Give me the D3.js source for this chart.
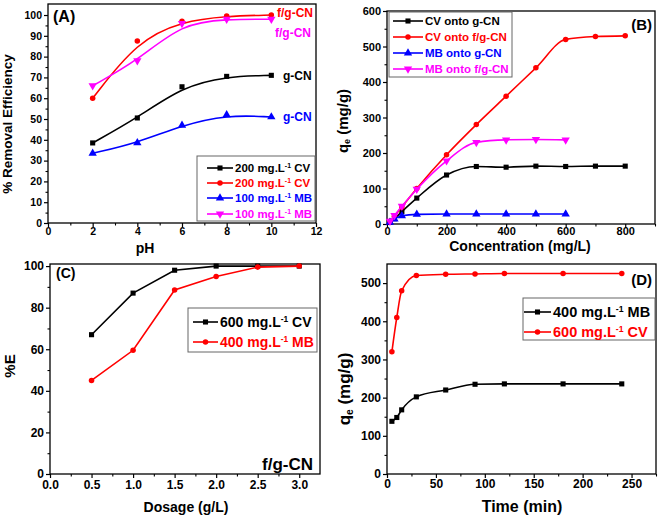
<!DOCTYPE html>
<html><head><meta charset="utf-8">
<script src="https://cdn.jsdelivr.net/npm/d3@7"></script>
<style>body{margin:0;background:#fff}svg{display:block}</style>
</head><body>
<svg id="chart" width="661" height="519"></svg>
<script>
// ---- data ----
const phValues = [2, 4, 6, 8, 10];
const pHcvGCN = [38.5, 50.5, 65.5, 70.5, 71];
const pHcvFGCN = [60, 87.5, 97, 99.5, 100];
const pHmbGCN = [33.5, 38.5, 47, 52, 51];
const pHmbFGCN = [66, 78, 96, 98, 98];

const concCV = [10, 25, 50, 100, 200, 300, 400, 500, 600, 700, 800];
const qCVgCN = [5, 15, 35, 73, 138, 162, 160, 163, 162, 163, 163];
const qCVfgCN = [8, 22, 48, 100, 195, 280, 360, 440, 520, 528, 530];
const concMB = [10, 25, 50, 100, 200, 300, 400, 500, 600];
const qMBgCN = [5, 14, 23, 27, 28, 28, 28, 28, 28];
const qMBfgCN = [8, 24, 50, 98, 178, 230, 237, 238, 237];

const dosage = [0.5, 1.0, 1.5, 2.0, 2.5, 3.0];
const eCV = [67, 87, 98, 100, 100, 100];
const eMB = [45, 59.5, 88.5, 95, 99.5, 100];

const time = [5, 10, 15, 30, 60, 90, 120, 180, 240];
const qtMB = [138, 148, 168, 202, 220, 235, 236, 236, 236];
const qtCV = [320, 410, 480, 520, 523, 524, 525, 525, 525];

const ticksA_x = [0, 2, 4, 6, 8, 10, 12];
const ticksA_y = [0, 10, 20, 30, 40, 50, 60, 70, 80, 90, 100];
const ticksB_x = [0, 200, 400, 600, 800];
const ticksB_y = [0, 100, 200, 300, 400, 500, 600];
const ticksC_x = [0, 0.5, 1.0, 1.5, 2.0, 2.5, 3.0];
const ticksC_y = [0, 20, 40, 60, 80, 100];
const ticksD_x = [0, 50, 100, 150, 200, 250];
const ticksD_y = [0, 100, 200, 300, 400, 500];

const BLACK = "#000000", RED = "#ff0000", BLUE = "#0000ff", MAG = "#ff00ff";
const FONT = "'Liberation Sans', Arial, sans-serif";

const svg = d3.select("#chart");

function symbolFor(kind) {
  if (kind === "square") return d3.symbol(d3.symbolSquare, 26)();
  if (kind === "circle") return d3.symbol(d3.symbolCircle, 24)();
  if (kind === "up") return d3.symbol(d3.symbolTriangle, 30)();
  if (kind === "down") return d3.symbol(d3.symbolTriangle, 30)();
  return null;
}
function markerTransform(kind, x, y) {
  return `translate(${x},${y})` + (kind === "down" ? " rotate(180)" : "");
}

function panel(cfg) {
  const g = svg.append("g");
  const x = d3.scaleLinear().domain(cfg.xDomain).range([cfg.left, cfg.right]);
  const y = d3.scaleLinear().domain(cfg.yDomain).range([cfg.bottom, cfg.top]);
  // frame
  g.append("rect").attr("x", cfg.left).attr("y", cfg.top)
    .attr("width", cfg.right - cfg.left).attr("height", cfg.bottom - cfg.top)
    .attr("fill", "none").attr("stroke", "#000").attr("stroke-width", 1.3);
  // axes
  const xAxis = d3.axisBottom(x).tickValues(cfg.xTicks).tickSize(4).tickSizeOuter(0)
    .tickFormat(cfg.xFmt || d3.format("d"));
  const gx = g.append("g").attr("transform", `translate(0,${cfg.bottom})`).call(xAxis);
  const yAxis = d3.axisLeft(y).tickValues(cfg.yTicks).tickSize(4).tickSizeOuter(0)
    .tickFormat(d3.format("d"));
  const gy = g.append("g").attr("transform", `translate(${cfg.left},0)`).call(yAxis);
  [gx, gy].forEach(a => {
    a.select(".domain").remove();
    a.selectAll("line").attr("stroke", "#000").attr("stroke-width", 1.2);
    a.selectAll("text").attr("font-family", FONT).attr("font-weight", "bold")
      .attr("font-size", cfg.tickFont || 11).attr("fill", "#000");
  });
  gx.selectAll("text").attr("y", cfg.xLabelOff).attr("dy", "0.71em");
  gy.selectAll("text").attr("x", -6);
  // minor ticks
  const xm = d3.axisBottom(x).tickValues(cfg.xMinor).tickSize(2.5).tickFormat("");
  const ym = d3.axisLeft(y).tickValues(cfg.yMinor).tickSize(2.5).tickFormat("");
  const gxm = g.append("g").attr("transform", `translate(0,${cfg.bottom})`).call(xm);
  const gym = g.append("g").attr("transform", `translate(${cfg.left},0)`).call(ym);
  [gxm, gym].forEach(a => { a.select(".domain").remove(); a.selectAll("line").attr("stroke", "#000").attr("stroke-width", 1.1); });

  // series
  cfg.series.forEach(s => {
    const pts = s.x.map((v, i) => [v, s.y[i]]);
    g.append("path").datum(pts)
      .attr("d", d3.line().x(d => x(d[0])).y(d => y(d[1])).curve(s.curve || d3.curveLinear))
      .attr("fill", "none").attr("stroke", s.color).attr("stroke-width", 1.6);
    g.selectAll(null).data(pts).enter().append("path")
      .attr("d", symbolFor(s.marker))
      .attr("transform", d => markerTransform(s.marker, x(d[0]), y(d[1])))
      .attr("fill", s.color);
  });

  // axis titles
  cfg.titles.forEach(t => {
    const tx = g.append("text").attr("font-family", FONT).attr("font-weight", "bold")
      .attr("font-size", t.size).attr("fill", "#000").attr("text-anchor", "middle");
    if (t.rotate) tx.attr("transform", `translate(${t.x},${t.y}) rotate(-90)`);
    else tx.attr("x", t.x).attr("y", t.y);
    t.parts.forEach(p => {
      const sp = tx.append("tspan").text(p.t);
      if (p.sub) sp.attr("font-size", "0.6em").attr("dy", "0.25em");
      if (p.after) sp.attr("dy", "-0.15em");
    });
  });

  // labels
  (cfg.labels || []).forEach(l => {
    g.append("text").attr("x", l.x).attr("y", l.y).attr("font-family", FONT)
      .attr("font-weight", "bold").attr("font-size", l.size).attr("fill", l.color || "#000")
      .attr("text-anchor", l.anchor || "start").text(l.text);
  });

  // legend
  const L = cfg.legend;
  g.append("rect").attr("x", L.x0).attr("y", L.y0).attr("width", L.x1 - L.x0).attr("height", L.y1 - L.y0)
    .attr("fill", "#fff").attr("stroke", "#666").attr("stroke-width", 1);
  L.items.forEach((it, i) => {
    const yy = L.rows[i];
    g.append("line").attr("x1", L.lx0).attr("x2", L.lx1).attr("y1", yy).attr("y2", yy)
      .attr("stroke", it.color).attr("stroke-width", 1.6);
    g.append("path").attr("d", symbolFor(it.marker))
      .attr("transform", markerTransform(it.marker, (L.lx0 + L.lx1) / 2, yy)).attr("fill", it.color);
    const t = g.append("text").attr("x", L.tx).attr("y", yy).attr("dy", "0.36em")
      .attr("font-family", FONT).attr("font-weight", "bold").attr("font-size", L.size).attr("fill", it.color);
    if (it.sup) {
      t.append("tspan").text(it.pre);
      t.append("tspan").text(it.sup).attr("font-size", "0.6em").attr("dy", "-0.6em");
      t.append("tspan").text(it.post).attr("dy", "0.36em");
    } else t.text(it.text);
  });
}

// Panel A
panel({
  left: 48, right: 316, top: 4, bottom: 223,
  xDomain: [0, 12], yDomain: [0, 105.3],
  xTicks: ticksA_x, yTicks: ticksA_y,
  xMinor: [1, 3, 5, 7, 9, 11], yMinor: [5, 15, 25, 35, 45, 55, 65, 75, 85, 95],
  tickFont: 10.5, xLabelOff: 4.5,
  series: [
    { x: phValues, y: pHcvGCN, color: BLACK, marker: "square", curve: d3.curveBasis },
    { x: phValues, y: pHcvFGCN, color: RED, marker: "circle", curve: d3.curveBasis },
    { x: phValues, y: pHmbGCN, color: BLUE, marker: "up", curve: d3.curveBasis },
    { x: phValues, y: pHmbFGCN, color: MAG, marker: "down", curve: d3.curveBasis }
  ],
  titles: [
    { x: 12, y: 124, rotate: true, size: 13.5, parts: [{ t: "% Removal Efficiency" }] },
    { x: 145, y: 253, size: 14, parts: [{ t: "pH" }] }
  ],
  labels: [
    { x: 53, y: 22, size: 16, text: "(A)" },
    { x: 277, y: 17, size: 12, text: "f/g-CN", color: RED },
    { x: 275, y: 37, size: 12, text: "f/g-CN", color: MAG },
    { x: 283, y: 80, size: 12, text: "g-CN", color: BLACK },
    { x: 283, y: 121, size: 12, text: "g-CN", color: BLUE }
  ],
  legend: {
    x0: 197, x1: 315, y0: 156, y1: 221, rows: [168, 183, 198, 214],
    lx0: 207, lx1: 233, tx: 235, size: 11.5,
    items: [
      { color: BLACK, marker: "square", pre: "200 mg.L", sup: "-1", post: " CV" },
      { color: RED, marker: "circle", pre: "200 mg.L", sup: "-1", post: " CV" },
      { color: BLUE, marker: "up", pre: "100 mg.L", sup: "-1", post: " MB" },
      { color: MAG, marker: "down", pre: "100 mg.L", sup: "-1", post: " MB" }
    ]
  }
});

// Panel B
panel({
  left: 387, right: 655, top: 11, bottom: 224,
  xDomain: [0, 900], yDomain: [0, 600],
  xTicks: ticksB_x, yTicks: ticksB_y,
  xMinor: [100, 300, 500, 700, 900], yMinor: [50, 150, 250, 350, 450, 550],
  tickFont: 11, xLabelOff: 3.5,
  series: [
    { x: concCV, y: qCVgCN, color: BLACK, marker: "square", curve: d3.curveMonotoneX },
    { x: concCV, y: qCVfgCN, color: RED, marker: "circle", curve: d3.curveMonotoneX },
    { x: concMB, y: qMBgCN, color: BLUE, marker: "up", curve: d3.curveMonotoneX },
    { x: concMB, y: qMBfgCN, color: MAG, marker: "down", curve: d3.curveMonotoneX }
  ],
  titles: [
    { x: 348, y: 121, rotate: true, size: 15, parts: [{ t: "q" }, { t: "e", sub: true }, { t: " (mg/g)", after: true }] },
    { x: 520, y: 251, size: 14, parts: [{ t: "Concentration (mg/L)" }] }
  ],
  labels: [
    { x: 652, y: 30, size: 15, text: "(B)", anchor: "end" }
  ],
  legend: {
    x0: 389, x1: 512, y0: 12, y1: 77, rows: [21, 37, 53, 69],
    lx0: 393, lx1: 423, tx: 425, size: 11.5,
    items: [
      { color: BLACK, marker: "square", text: "CV onto g-CN" },
      { color: RED, marker: "circle", text: "CV onto f/g-CN" },
      { color: BLUE, marker: "up", text: "MB onto g-CN" },
      { color: MAG, marker: "down", text: "MB onto f/g-CN" }
    ]
  }
});

// Panel C
panel({
  left: 50, right: 320, top: 264, bottom: 474,
  xDomain: [0, 3.25], yDomain: [0, 101],
  xTicks: ticksC_x, yTicks: ticksC_y, xFmt: d3.format(".1f"),
  xMinor: [0.25, 0.75, 1.25, 1.75, 2.25, 2.75], yMinor: [10, 30, 50, 70, 90],
  tickFont: 12, xLabelOff: 6,
  series: [
    { x: dosage, y: eCV, color: BLACK, marker: "square" },
    { x: dosage, y: eMB, color: RED, marker: "circle" }
  ],
  titles: [
    { x: 15, y: 366, rotate: true, size: 15, parts: [{ t: "%E" }] },
    { x: 186, y: 512, size: 14, parts: [{ t: "Dosage (g/L)" }] }
  ],
  labels: [
    { x: 56, y: 278, size: 14, text: "(C)" },
    { x: 313, y: 470, size: 17, text: "f/g-CN", anchor: "end" }
  ],
  legend: {
    x0: 188, x1: 317, y0: 308, y1: 352, rows: [322, 342],
    lx0: 193, lx1: 218, tx: 220, size: 14,
    items: [
      { color: BLACK, marker: "square", pre: "600 mg.L", sup: "-1", post: " CV" },
      { color: RED, marker: "circle", pre: "400 mg.L", sup: "-1", post: " MB" }
    ]
  }
});

// Panel D
panel({
  left: 387, right: 656, top: 264, bottom: 474,
  xDomain: [0, 275], yDomain: [0, 550],
  xTicks: ticksD_x, yTicks: ticksD_y,
  xMinor: [25, 75, 125, 175, 225, 275], yMinor: [50, 150, 250, 350, 450],
  tickFont: 12, xLabelOff: 5,
  series: [
    { x: time, y: qtMB, color: BLACK, marker: "square", curve: d3.curveMonotoneX },
    { x: time, y: qtCV, color: RED, marker: "circle", curve: d3.curveMonotoneX }
  ],
  titles: [
    { x: 350, y: 389, rotate: true, size: 17, parts: [{ t: "q" }, { t: "e", sub: true }, { t: " (mg/g)", after: true }] },
    { x: 522, y: 512, size: 16, parts: [{ t: "Time (min)" }] }
  ],
  labels: [
    { x: 652, y: 285, size: 15, text: "(D)", anchor: "end" }
  ],
  legend: {
    x0: 523, x1: 655, y0: 298, y1: 340, rows: [312, 332],
    lx0: 524, lx1: 551, tx: 553, size: 14.5,
    items: [
      { color: BLACK, marker: "square", pre: "400 mg.L", sup: "-1", post: " MB" },
      { color: RED, marker: "circle", pre: "600 mg.L", sup: "-1", post: " CV" }
    ]
  }
});
</script>
</body></html>
